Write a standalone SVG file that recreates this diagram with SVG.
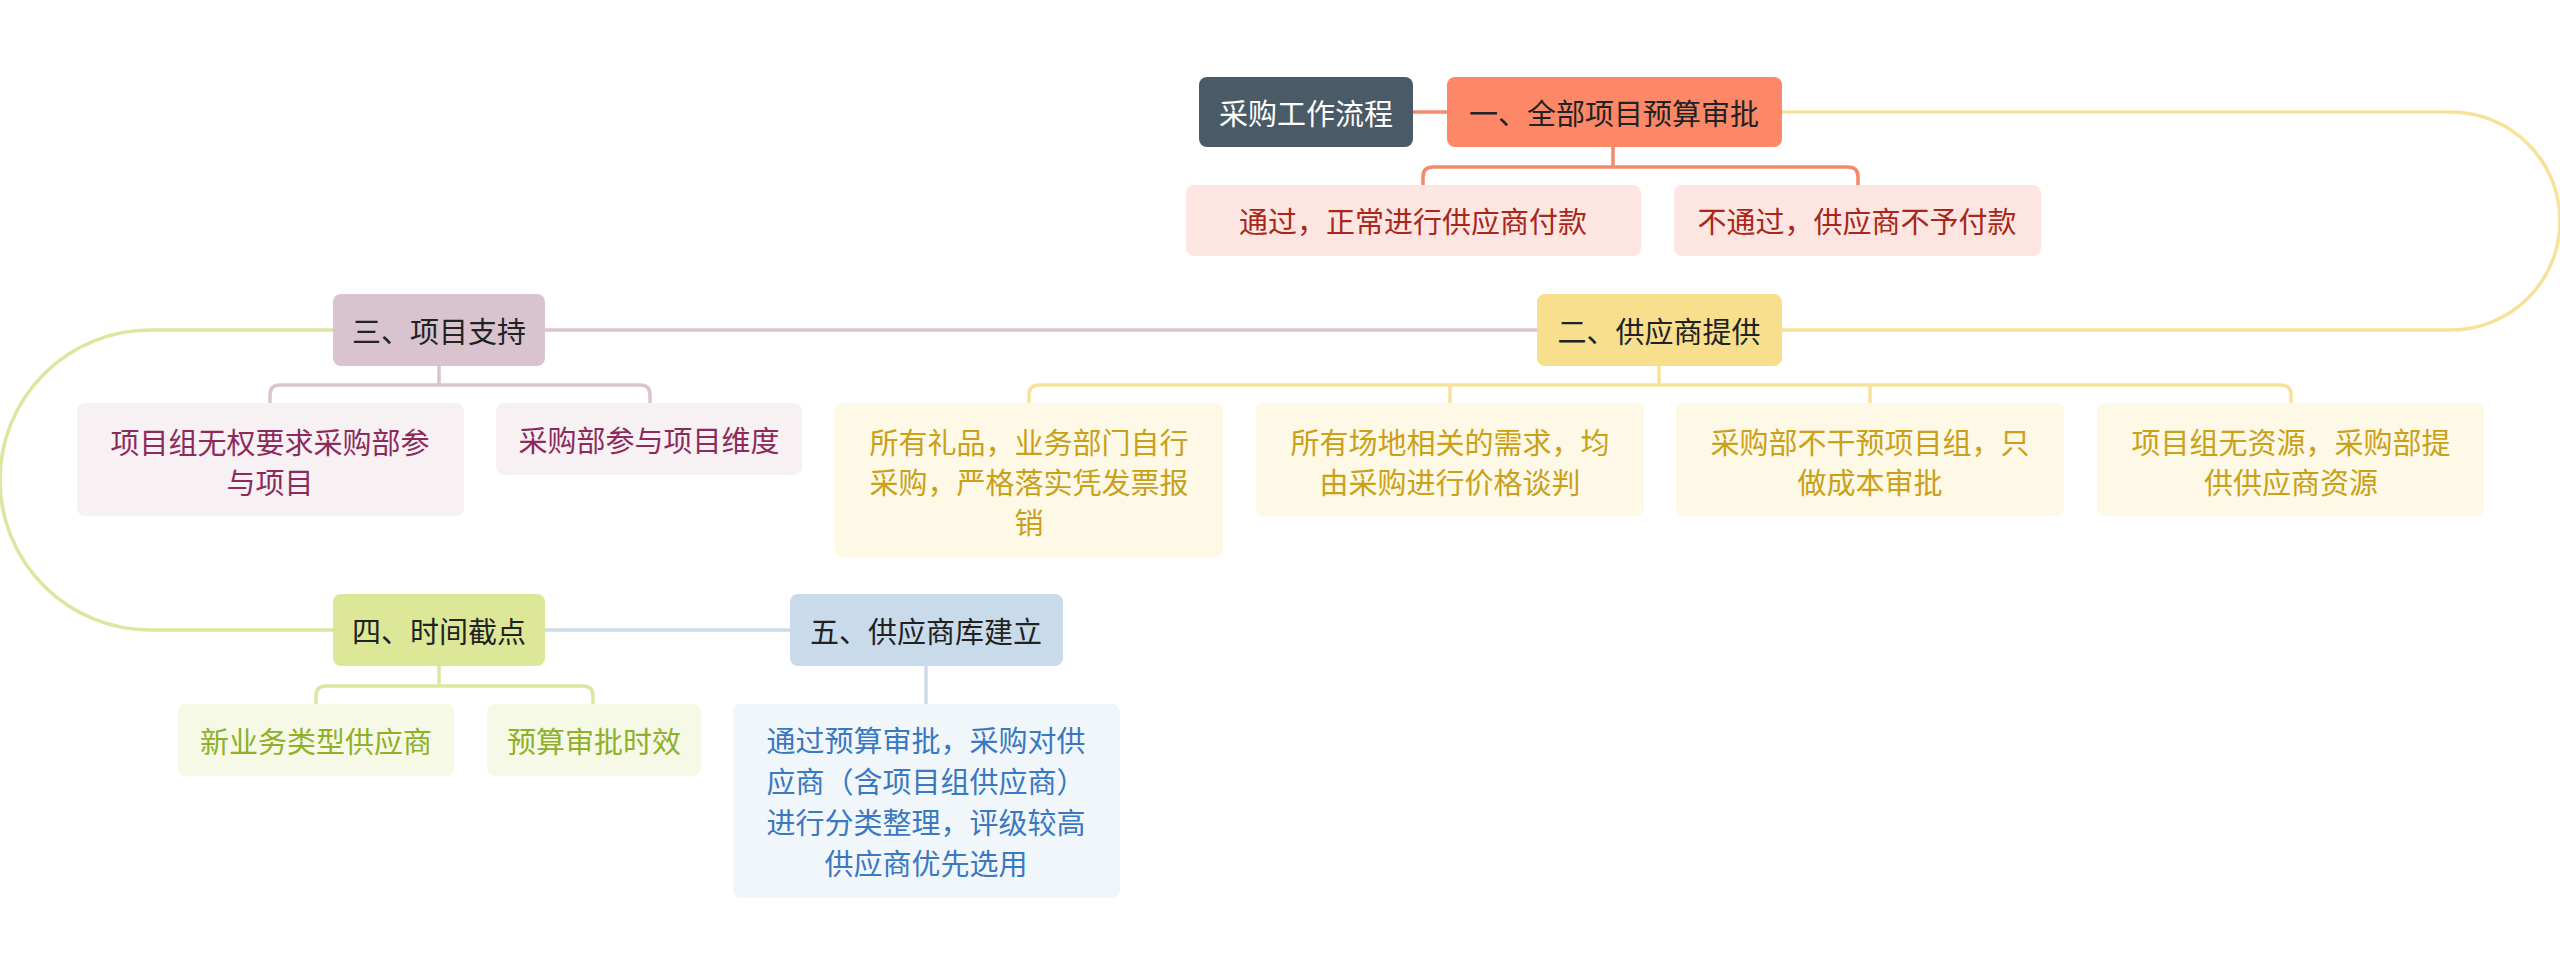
<svg xmlns="http://www.w3.org/2000/svg" width="2560" height="975" viewBox="0 0 2560 975">
<style>
text{font-family:"Noto Sans CJK SC","Liberation Sans",sans-serif;font-size:29px;text-anchor:middle;dominant-baseline:central}
.c{fill:none;stroke-width:3.5}
</style>
<rect width="2560" height="975" fill="#fff"/>
<g id="connectors">
<path class="c" stroke="#f7e29c" d="M1782 112 H2451 A109 109 0 0 1 2451 330 H1782"/>
<path class="c" stroke="#d9c5cf" d="M545 330 H1537"/>
<path class="c" stroke="#dbe79e" d="M333 330 H150 A150 150 0 0 0 150 630 H333"/>
<path class="c" stroke="#cbdbe9" d="M545 630 H790"/>
<path class="c" stroke="#f48a6c" d="M1413 112 H1447"/>
<path class="c" stroke="#f48a6c" d="M1613 147 V167 M1423 185 V177 Q1423 167 1433 167 H1848 Q1858 167 1858 177 V185"/>
<path class="c" stroke="#d9c5cf" d="M439 366 V385 M270 403 V395 Q270 385 280 385 H640 Q650 385 650 395 V403"/>
<path class="c" stroke="#f7e29c" d="M1659 366 V385 M1029 403 V395 Q1029 385 1039 385 H2281 Q2291 385 2291 395 V403 M1450 385 V403 M1870 385 V403"/>
<path class="c" stroke="#dbe79e" d="M439 666 V686 M316 704 V696 Q316 686 326 686 H583 Q593 686 593 696 V704"/>
<path class="c" stroke="#cbdbe9" d="M926 666 V704"/>
</g>
<g id="root"><rect x="1199" y="77" width="214" height="70" rx="8" fill="#4b5a67"/><text x="1306" y="112" fill="#fff">采购工作流程</text></g>
<g id="n1"><rect x="1447" y="77" width="335" height="70" rx="8" fill="#fc8868"/><text x="1614" y="112" fill="#222">一、全部项目预算审批</text></g>
<g id="n1a"><rect x="1186" y="185" width="455" height="71" rx="8" fill="#fde6e1"/><text x="1413" y="220" fill="#a8261a">通过，正常进行供应商付款</text></g>
<g id="n1b"><rect x="1674" y="185" width="367" height="71" rx="8" fill="#fde6e1"/><text x="1857" y="220" fill="#a8261a">不通过，供应商不予付款</text></g>
<g id="n2"><rect x="1537" y="294" width="245" height="72" rx="8" fill="#f8df8e"/><text x="1659" y="330" fill="#222">二、供应商提供</text></g>
<g id="n2a"><rect x="834" y="403" width="389" height="154" rx="8" fill="#fef9e6"/><text x="1029" y="441" fill="#c9a018">所有礼品，业务部门自行</text><text x="1029" y="481" fill="#c9a018">采购，严格落实凭发票报</text><text x="1029" y="521" fill="#c9a018">销</text></g>
<g id="n2b"><rect x="1256" y="403" width="388" height="113" rx="8" fill="#fef9e6"/><text x="1450" y="441" fill="#c9a018">所有场地相关的需求，均</text><text x="1450" y="481" fill="#c9a018">由采购进行价格谈判</text></g>
<g id="n2c"><rect x="1676" y="403" width="388" height="113" rx="8" fill="#fef9e6"/><text x="1870" y="441" fill="#c9a018">采购部不干预项目组，只</text><text x="1870" y="481" fill="#c9a018">做成本审批</text></g>
<g id="n2d"><rect x="2097" y="403" width="387" height="113" rx="8" fill="#fef9e6"/><text x="2291" y="441" fill="#c9a018">项目组无资源，采购部提</text><text x="2291" y="481" fill="#c9a018">供供应商资源</text></g>
<g id="n3"><rect x="333" y="294" width="212" height="72" rx="8" fill="#d9c3ce"/><text x="439" y="330" fill="#222">三、项目支持</text></g>
<g id="n3a"><rect x="77" y="403" width="387" height="113" rx="8" fill="#f7f1f4"/><text x="270" y="441" fill="#8c2a5c">项目组无权要求采购部参</text><text x="270" y="481" fill="#8c2a5c">与项目</text></g>
<g id="n3b"><rect x="496" y="403" width="306" height="72" rx="8" fill="#f7f1f4"/><text x="649" y="439" fill="#8c2a5c">采购部参与项目维度</text></g>
<g id="n4"><rect x="333" y="594" width="212" height="72" rx="8" fill="#dce897"/><text x="439" y="630" fill="#222">四、时间截点</text></g>
<g id="n4a"><rect x="178" y="704" width="276" height="72" rx="8" fill="#f6f9e6"/><text x="316" y="740" fill="#8fb028">新业务类型供应商</text></g>
<g id="n4b"><rect x="487" y="704" width="214" height="72" rx="8" fill="#f6f9e6"/><text x="594" y="740" fill="#8fb028">预算审批时效</text></g>
<g id="n5"><rect x="790" y="594" width="273" height="72" rx="8" fill="#c9dbea"/><text x="926" y="630" fill="#222">五、供应商库建立</text></g>
<g id="n5a"><rect x="733" y="704" width="387" height="194" rx="8" fill="#f1f6fb"/><text x="926" y="739" fill="#3a78c0">通过预算审批，采购对供</text><text x="926" y="780" fill="#3a78c0">应商（含项目组供应商）</text><text x="926" y="821" fill="#3a78c0">进行分类整理，评级较高</text><text x="926" y="862" fill="#3a78c0">供应商优先选用</text></g>
</svg>
